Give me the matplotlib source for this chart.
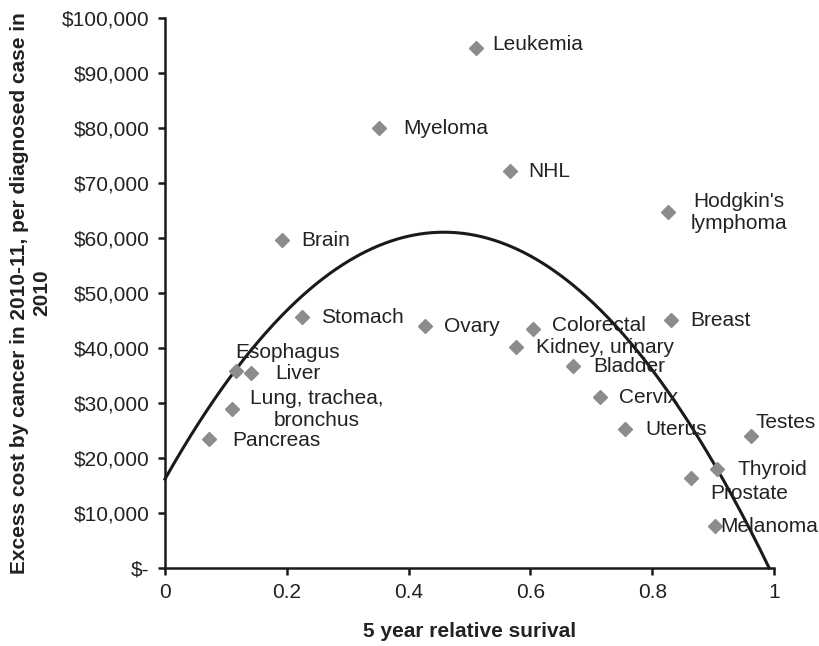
import numpy as np
import matplotlib.pyplot as plt
from matplotlib.ticker import FuncFormatter

plt.rcParams['font.family'] = ['Liberation Sans', 'DejaVu Sans']

cancers = ['Leukemia', 'Myeloma', 'NHL', "Hodgkin's\nlymphoma", 'Brain', 'Stomach', 'Ovary',
           'Colorectal', 'Breast', 'Kidney, urinary', 'Esophagus', 'Liver', 'Bladder',
           'Lung, trachea,\nbronchus', 'Cervix', 'Pancreas', 'Uterus', 'Testes', 'Thyroid',
           'Prostate', 'Melanoma']
survival = [0.511, 0.352, 0.566, 0.826, 0.192, 0.225, 0.427, 0.604, 0.831, 0.576, 0.117,
            0.142, 0.670, 0.110, 0.715, 0.072, 0.756, 0.963, 0.907, 0.864, 0.903]
cost = [94550, 80000, 72180, 64730, 59640, 45640, 44000, 43450, 45090, 40180, 35820,
        35450, 36730, 28910, 31090, 23450, 25270, 24000, 18000, 16360, 7640]

# order-2 trendline (a*x^2 + b*x + c)
trend_coef = [-214000, 196000, 16180]

# label offsets in pixels (dx, dy) and horizontal alignment
label_pos = {
    'Leukemia': (16, 3, 'left'), 'Myeloma': (24, 0, 'left'), 'NHL': (19, 0, 'left'),
    "Hodgkin's\nlymphoma": (71, 0, 'center'), 'Brain': (19, 0, 'left'),
    'Stomach': (19, 0, 'left'), 'Ovary': (19, 0, 'left'), 'Colorectal': (19, 4, 'left'),
    'Breast': (19, 0, 'left'), 'Kidney, urinary': (20, 0, 'left'),
    'Esophagus': (-1, 19, 'left'), 'Liver': (24, 0, 'left'), 'Bladder': (20, 0, 'left'),
    'Lung, trachea,\nbronchus': (85, 0, 'center'), 'Cervix': (19, 0, 'left'),
    'Pancreas': (23, -1, 'left'), 'Uterus': (20, 0, 'left'), 'Testes': (4, 14, 'left'),
    'Thyroid': (20, 0, 'left'), 'Prostate': (19, -15, 'left'), 'Melanoma': (5, 0, 'left'),
}

fig = plt.figure(figsize=(8.2, 6.46), dpi=100)
ax = fig.add_axes([0.2012, 0.1207, 0.7427, 0.8514])

ax.plot(survival, cost, 'D', color='#8c8c8c', markersize=7.5, zorder=3)

# trendline, stopped where it meets the x axis
root = max(np.roots(trend_coef).real)
xs = np.linspace(0, root, 400)
ax.plot(xs, np.polyval(trend_coef, xs), color='#1a1a1a', linewidth=2.2, zorder=2, clip_on=False)

for name, x, y in zip(cancers, survival, cost):
    dx, dy, ha = label_pos[name]
    ax.annotate(name, (x, y), xytext=(dx, dy), textcoords='offset pixels',
                ha=ha, va='center', multialignment='center', fontsize=15,
                color='#222222', zorder=4)

ax.set_xlim(0, 1)
ax.set_ylim(0, 100000)
ax.set_xticks([0, 0.2, 0.4, 0.6, 0.8, 1])
ax.set_xticklabels(['0', '0.2', '0.4', '0.6', '0.8', '1'])
ax.set_yticks(range(0, 100001, 10000))
ax.yaxis.set_major_formatter(FuncFormatter(lambda v, p: '$-' if v == 0 else '${:,.0f}'.format(v)))

for s in ['top', 'right']:
    ax.spines[s].set_visible(False)
for s in ['left', 'bottom']:
    ax.spines[s].set_linewidth(1.8)
    ax.spines[s].set_color('#1a1a1a')
ax.tick_params(axis='both', direction='out', length=5, width=1.8, color='#1a1a1a',
               labelsize=15, labelcolor='#222222', pad=6)

ax.set_xlabel('5 year relative surival', fontsize=15, fontweight='bold', color='#222222', labelpad=14)
ax.set_ylabel('Excess cost by cancer in 2010-11, per diagnosed case in\n2010', fontsize=15,
              fontweight='bold', color='#222222', labelpad=8, multialignment='center')

fig.savefig('out.png', dpi=100)
